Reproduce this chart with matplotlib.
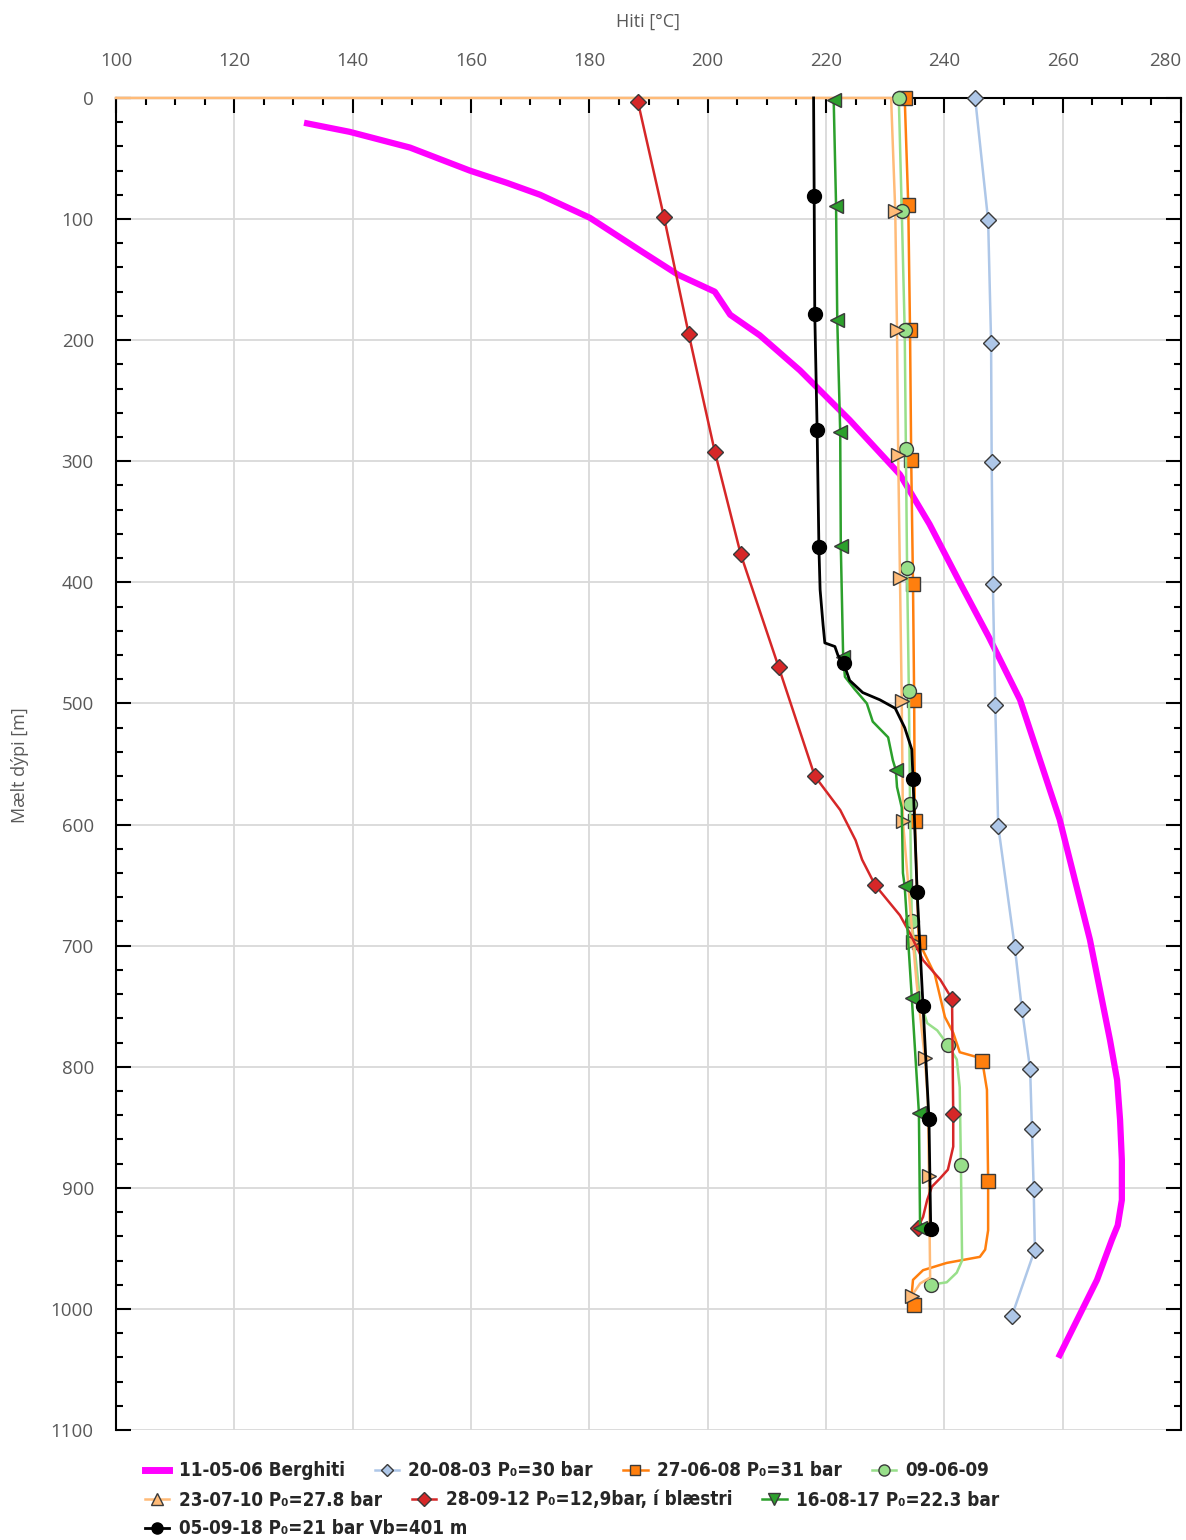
import matplotlib
matplotlib.use("Agg")
import matplotlib.pyplot as plt
from matplotlib.lines import Line2D
from matplotlib.ticker import MultipleLocator

# Temperature profiles: temperature [°C] vs measured depth [m]
berghiti_t = [132.3, 139.5, 149.7, 159.8, 166.0, 171.7, 180.1, 188.6, 195.0, 201.2, 203.8,
              208.8, 215.6, 224.0, 232.5, 237.5, 242.6, 247.5, 252.8, 259.5, 264.6, 268.0,
              269.2, 269.7, 270.0, 270.0, 269.3, 268.3, 265.8, 259.5]
berghiti_d = [21, 28, 41, 60, 70, 80, 99, 126, 146, 160, 179, 196, 225, 266, 311, 352, 400,
              445, 497, 596, 695, 778, 811, 844, 877, 910, 931, 943, 976, 1038]

s030820_t = [245.2, 247.4, 247.9, 248.0, 248.2, 248.6, 249.1, 251.9, 253.1, 254.5, 254.8,
             255.1, 255.3, 251.4]
s030820_d = [0, 101, 202, 301, 401, 501, 601, 701, 752, 802, 851, 901, 951, 1006]

s080627_t = [233.3, 233.9, 234.2, 234.4, 234.7, 234.9, 235.0, 235.7, 238.4, 240.1, 241.5,
             242.6, 245.5, 246.4, 247.2, 247.4, 247.4, 246.9, 246.0, 240.4, 236.4, 234.7,
             234.5, 234.9]
s080627_d = [0, 88, 192, 299, 401, 497, 597, 697, 724, 759, 772, 788, 792, 795, 819, 894,
             935, 951, 957, 962, 968, 976, 987, 997]
s080627_mk = [0, 1, 2, 3, 4, 5, 6, 7, 13, 15, 23]

s090609_t = [232.3, 232.8, 233.3, 233.5, 233.7, 234.0, 234.2, 234.5, 235.9, 237.1, 238.8,
             240.6, 242.1, 242.6, 242.8, 243.0, 242.1, 240.4, 237.7]
s090609_d = [0, 93, 192, 290, 388, 490, 583, 680, 745, 764, 770, 782, 794, 817, 881, 960,
             970, 978, 980]
s090609_mk = [0, 1, 2, 3, 4, 5, 6, 7, 11, 14, 18]

s100723_t = [100.0, 231.0, 231.7, 232.0, 232.2, 232.5, 232.8, 233.0, 234.7, 235.3, 236.7,
             237.2, 237.4, 237.6, 235.9, 234.5]
s100723_d = [0, 0, 93, 192, 295, 396, 498, 597, 697, 730, 793, 827, 890, 974, 979, 989]
s100723_mk = [2, 3, 4, 5, 6, 7, 8, 10, 12, 15]

s120928_t = [188.2, 192.6, 196.8, 201.2, 205.6, 212.0, 218.1, 222.4, 225.0, 226.1, 228.3,
             232.5, 234.2, 236.4, 239.3, 241.3, 241.5, 241.5, 240.6, 239.3, 237.9, 237.1,
             236.4, 235.5]
s120928_d = [3, 98, 195, 292, 377, 470, 560, 588, 613, 629, 650, 675, 690, 712, 728, 744,
             839, 866, 885, 892, 899, 910, 924, 933]
s120928_mk = [0, 1, 2, 3, 4, 5, 6, 10, 15, 16, 23]

s170816_t = [221.3, 221.7, 221.9, 222.4, 222.5, 222.9, 223.2, 224.8, 226.9, 227.9, 230.5,
             231.3, 231.8, 232.0, 232.8, 233.0, 233.3, 234.5, 235.7, 235.9]
s170816_d = [2, 89, 183, 276, 370, 462, 478, 488, 500, 515, 528, 547, 555, 569, 586, 640,
             651, 743, 838, 933]
s170816_mk = [0, 1, 2, 3, 4, 5, 12, 16, 17, 18, 19]

s180905_t = [217.9, 218.0, 218.1, 218.5, 218.8, 219.0, 219.5, 219.8, 221.5, 222.0, 223.0,
             224.0, 226.2, 229.1, 231.7, 233.3, 234.5, 234.7, 235.4, 236.4, 237.4, 237.7]
s180905_d = [0, 81, 178, 274, 371, 406, 435, 450, 453, 460, 467, 481, 491, 497, 504, 520,
             538, 562, 656, 750, 843, 934]
s180905_mk = [1, 2, 3, 4, 10, 17, 18, 19, 20, 21]

labels = ["11-05-06 Berghiti", "20-08-03 P₀=30 bar", "27-06-08 P₀=31 bar", "09-06-09",
          "23-07-10 P₀=27.8 bar", "28-09-12 P₀=12,9bar, í blæstri", "16-08-17 P₀=22.3 bar",
          "05-09-18 P₀=21 bar Vb=401 m"]

x_ticks = [100, 120, 140, 160, 180, 200, 220, 240, 260, 280]
y_ticks = [0, 100, 200, 300, 400, 500, 600, 700, 800, 900, 1000, 1100]

grey = "#595959"
edge = "#3a3a3a"

fig = plt.figure(figsize=(11.86, 15.4), dpi=100)
ax = fig.add_axes([0.0978, 0.0714, 0.898, 0.865])

# (t, d, markevery, color, marker in plot, marker in legend, markersize, lw, mfc, mec)
series = [
    (berghiti_t, berghiti_d, None, "#ff00ff", None, None, 0, 4.5, None, None),
    (s030820_t, s030820_d, None, "#aec7e8", "D", "D", 8, 1.8, "#aec7e8", edge),
    (s080627_t, s080627_d, s080627_mk, "#ff7f0e", "s", "s", 9.5, 1.8, "#ff7f0e", edge),
    (s090609_t, s090609_d, s090609_mk, "#98df8a", "o", "o", 10, 1.8, "#98df8a", edge),
    (s100723_t, s100723_d, s100723_mk, "#ffbb78", ">", "^", 10, 1.8, "#ffbb78", edge),
    (s120928_t, s120928_d, s120928_mk, "#d62728", "D", "D", 8.5, 1.8, "#d62728", edge),
    (s170816_t, s170816_d, s170816_mk, "#2ca02c", "<", "v", 10, 1.8, "#2ca02c", edge),
    (s180905_t, s180905_d, s180905_mk, "black", "o", "o", 10, 2.0, "black", "black"),
]

handles = []
for i, (t, d, mk, col, m, lm, ms, lw, mfc, mec) in enumerate(series):
    ax.plot(t, d, color=col, lw=lw, marker=m, markevery=mk, ms=ms, mfc=mfc, mec=mec,
            mew=1.0, clip_on=False, zorder=3 + i, solid_joinstyle="round")
    handles.append(Line2D([], [], color=col, lw=lw if m else 5, marker=lm, ms=ms * 0.8,
                          mfc=mfc, mec=mec, mew=1.0))

ax.set_xlim(100, 280)
ax.set_ylim(1100, 0)
ax.xaxis.set_major_locator(MultipleLocator(20))
ax.xaxis.set_minor_locator(MultipleLocator(5))
ax.yaxis.set_major_locator(MultipleLocator(100))
ax.yaxis.set_minor_locator(MultipleLocator(20))
ax.set_xticks(x_ticks)
ax.set_yticks(y_ticks)
ax.xaxis.tick_top()
ax.tick_params(axis="x", which="both", direction="in", top=True, bottom=False,
               labeltop=True, labelbottom=False, colors="black", labelcolor=grey,
               labelsize=13.5, pad=20, width=1.5)
ax.tick_params(axis="y", which="both", direction="in", left=True, right=True,
               colors="black", labelcolor=grey, labelsize=13.5, pad=16, width=1.5)
ax.tick_params(which="major", length=11)
ax.tick_params(which="minor", length=5)
for lab in ax.get_xticklabels() + ax.get_yticklabels():
    lab.set_fontfamily(["Open Sans", "DejaVu Sans"])
ax.get_xticklabels()[-1].set_horizontalalignment("right")

ax.grid(which="major", color="#d9d9d9", lw=1.3)
ax.set_axisbelow(True)
for side in ["top", "left", "right"]:
    ax.spines[side].set_linewidth(1.5)
    ax.spines[side].set_zorder(2.5)
ax.spines["bottom"].set_visible(False)

fig.text(648 / 1186, 1 - 22 / 1540, "Hiti [°C]", ha="center", va="center", color=grey,
         fontsize=13, family=["Open Sans", "DejaVu Sans"])
fig.text(20 / 1186, 1 - 765 / 1540, "Mælt dýpi [m]", ha="center", va="center", rotation=90,
         color=grey, fontsize=13, family=["Open Sans", "DejaVu Sans"])

# legend laid out in three rows, left aligned
rows = [(0, 4, 1471), (4, 7, 1500), (7, 8, 1529)]
for a, b, ypix in rows:
    leg = fig.legend(handles[a:b], labels[a:b], loc="center left",
                     bbox_to_anchor=(145 / 1186, 1 - ypix / 1540), ncol=b - a, frameon=False,
                     borderpad=0, borderaxespad=0, handlelength=1.3, handletextpad=0.5,
                     columnspacing=1.6,
                     prop=dict(family="DejaVu Sans", stretch="condensed", weight="bold",
                               size=13.5))
    for txt in leg.get_texts():
        txt.set_color("#262626")

fig.savefig("out.png", dpi=100)
